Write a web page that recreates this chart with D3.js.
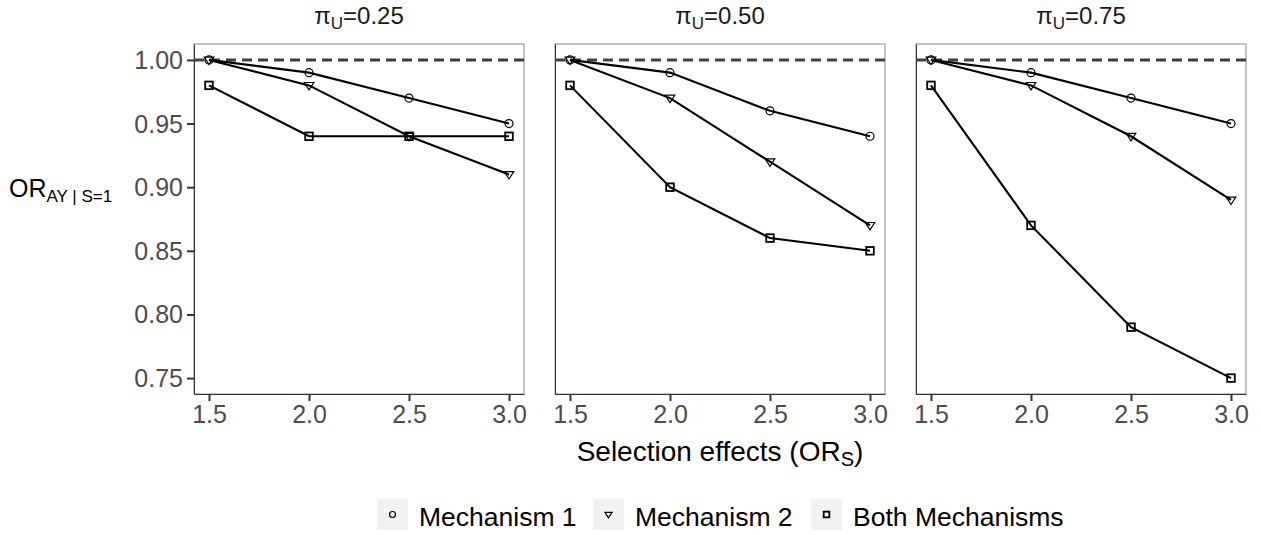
<!DOCTYPE html>
<html>
<head>
<meta charset="utf-8">
<script src="https://cdn.jsdelivr.net/npm/d3@7"></script>
<style>
  body { margin: 0; background: #fff; }
  text { font-family: "Liberation Sans", Arial, sans-serif; }
</style>
</head>
<body>
<script>
// data
const xVals = [1.5, 2.0, 2.5, 3.0];
const panelLabels = ["0.25", "0.50", "0.75"];
const mech1 = [[1.00, 0.99, 0.97, 0.95], [1.00, 0.99, 0.96, 0.94], [1.00, 0.99, 0.97, 0.95]];
const mech2 = [[1.00, 0.98, 0.94, 0.91], [1.00, 0.97, 0.92, 0.87], [1.00, 0.98, 0.94, 0.89]];
const both  = [[0.98, 0.94, 0.94, 0.94], [0.98, 0.90, 0.86, 0.85], [0.98, 0.87, 0.79, 0.75]];
const seriesNames = ["Mechanism 1", "Mechanism 2", "Both Mechanisms"];
const yTicks = [0.75, 0.80, 0.85, 0.90, 0.95, 1.00];

const W = 1261, H = 535;
const panelLeft = [194, 555, 916];
const panelW = 330, panelTop = 44, panelH = 350;

const svg = d3.select("body").append("svg")
    .attr("width", W).attr("height", H);

const x = d3.scaleLinear().domain([1.425, 3.075]).range([0, panelW]);
const y = d3.scaleLinear().domain([0.7375, 1.0125]).range([panelH, 0]);

const line = d3.line().x(d => x(d[0])).y(d => y(d[1]));

// marker drawing
function drawMarker(g, kind, cx, cy, s) {
    s = s || 1;
    if (kind == 0) {
        g.append("circle").attr("cx", cx).attr("cy", cy).attr("r", 4 * s)
            .attr("fill", "none").attr("stroke", "#000").attr("stroke-width", 1.2);
    } else if (kind == 1) {
        const r = 4.8 * s;
        g.append("path")
            .attr("d", `M${cx - r},${cy - r * 0.6}L${cx + r},${cy - r * 0.6}L${cx},${cy + r * 0.95}Z`)
            .attr("fill", "none").attr("stroke", "#000").attr("stroke-width", 1.2);
    } else {
        const r = 3.8 * s;
        g.append("rect").attr("x", cx - r).attr("y", cy - r)
            .attr("width", 2 * r).attr("height", 2 * r)
            .attr("fill", "none").attr("stroke", "#000").attr("stroke-width", 1.8);
    }
}

panelLabels.forEach((lab, i) => {
    const g = svg.append("g").attr("transform", `translate(${panelLeft[i]},${panelTop})`);

    g.append("rect").attr("width", panelW).attr("height", panelH)
        .attr("fill", "#fff").attr("stroke", "#8a8a8a").attr("stroke-width", 1);

    // axes
    const yAxis = d3.axisLeft(y).tickValues(yTicks).tickFormat(d3.format(".2f"))
        .tickSizeInner(7).tickSizeOuter(0);
    const xAxis = d3.axisBottom(x).tickValues(xVals).tickFormat(d3.format(".1f"))
        .tickSizeInner(7).tickSizeOuter(0);

    const ya = g.append("g").call(yAxis);
    ya.attr("font-family", null);
    ya.select(".domain").attr("stroke", "#333");
    ya.selectAll(".tick line").attr("stroke", "#333").attr("stroke-width", 2);
    if (i == 0) {
        ya.selectAll(".tick text").attr("font-size", 25).attr("fill", "#4d4d4d")
            .attr("x", -11).attr("dy", "0.34em");
    } else {
        ya.selectAll(".tick").remove();
    }

    const xa = g.append("g").attr("transform", `translate(0,${panelH})`).call(xAxis);
    xa.attr("font-family", null);
    xa.select(".domain").attr("stroke", "#333");
    xa.selectAll(".tick line").attr("stroke", "#333").attr("stroke-width", 2);
    xa.selectAll(".tick text").attr("font-size", 25).attr("fill", "#4d4d4d")
        .attr("y", 11).attr("dy", "0.71em");

    // reference line
    g.append("line").attr("x1", 0).attr("x2", panelW)
        .attr("y1", y(1)).attr("y2", y(1))
        .attr("stroke", "#404040").attr("stroke-width", 3).attr("stroke-dasharray", "10,6");

    [mech1[i], mech2[i], both[i]].forEach((vals, k) => {
        const pts = xVals.map((xv, j) => [xv, vals[j]]);
        g.append("path").datum(pts).attr("d", line)
            .attr("fill", "none").attr("stroke", "#000").attr("stroke-width", 2.1);
        pts.forEach(p => drawMarker(g, k, x(p[0]), y(p[1])));
    });

    // strip title
    const t = svg.append("text").attr("x", panelLeft[i] + panelW / 2).attr("y", 24)
        .attr("text-anchor", "middle").attr("font-size", 24).attr("fill", "#1a1a1a");
    t.append("tspan").text("π");
    t.append("tspan").attr("font-size", 17).attr("dy", 5).text("U");
    t.append("tspan").attr("dy", -5).text("=" + lab);
});

// x axis title
const xt = svg.append("text").attr("x", 720).attr("y", 461)
    .attr("text-anchor", "middle").attr("font-size", 28).attr("fill", "#000");
xt.append("tspan").text("Selection effects (OR");
xt.append("tspan").attr("font-size", 20).attr("dy", 5).text("S");
xt.append("tspan").attr("dy", -5).text(")");

// y axis title
const yt = svg.append("text").attr("x", 9).attr("y", 197)
    .attr("font-size", 25).attr("fill", "#000");
yt.append("tspan").text("OR");
yt.append("tspan").attr("font-size", 17).attr("dy", 5).text("AY | S=1");

// legend
const legX = [377, 593, 811];
seriesNames.forEach((name, k) => {
    const lg = svg.append("g");
    lg.append("rect").attr("x", legX[k]).attr("y", 499).attr("width", 31).attr("height", 31)
        .attr("fill", "#f2f2f2");
    drawMarker(lg, k, legX[k] + 15.5, 514.5, 0.75);
    lg.append("text").attr("x", legX[k] + 42).attr("y", 526)
        .attr("font-size", 26.5).attr("fill", "#000").text(name);
});
</script>
</body>
</html>
